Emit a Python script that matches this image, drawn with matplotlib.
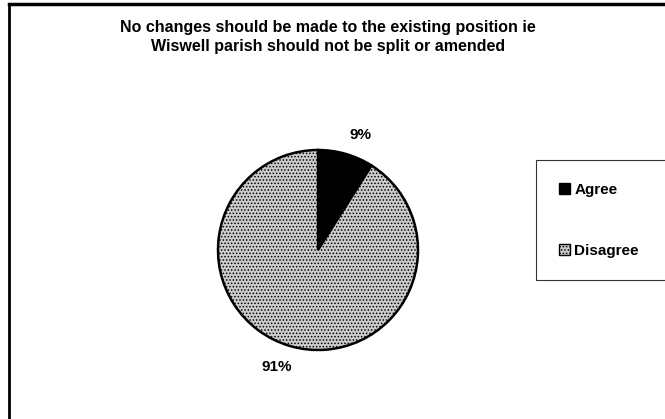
import matplotlib.pyplot as plt
from matplotlib.lines import Line2D
from matplotlib.patches import Patch

plt.rcParams['font.family'] = ['Liberation Sans', 'DejaVu Sans']
plt.rcParams['hatch.color'] = '#444444'
plt.rcParams['hatch.linewidth'] = 0.7

labels = ['Agree', 'Disagree']
values = [9, 91]
pct_labels = ['9%', '91%']
colors = ['#000000', '#cccccc']
hatches = [None, '.....']

fig = plt.figure(figsize=(6.65, 4.19), dpi=100)

# pie axes placed so that the circle sits at about (318, 250) px, radius 100
ax = fig.add_axes([218/665, 1 - 350/419, 200/665, 200/419])
wedges, _ = ax.pie(values, colors=colors, startangle=90, counterclock=False,
                   wedgeprops=dict(edgecolor='black', linewidth=1.8))
for w, h in zip(wedges, hatches):
    if h:
        w.set_hatch(h)
ax.set_xlim(-1, 1)
ax.set_ylim(-1, 1)
ax.set_aspect('equal')

# data labels
ax.text(0.43, 1.15, pct_labels[0], ha='center', va='center', fontsize=11, fontweight='bold')
ax.text(-0.41, -1.17, pct_labels[1], ha='center', va='center', fontsize=11, fontweight='bold')

# title
fig.text(328/665, 1 - 37/419,
         'No changes should be made to the existing position ie\nWiswell parish should not be split or amended',
         ha='center', va='center', fontsize=11.5, fontweight='bold', linespacing=1.4)

# legend
handles = [Patch(facecolor=colors[0], edgecolor='black', label=labels[0]),
           Patch(facecolor=colors[1], edgecolor='black', hatch=hatches[1], label=labels[1])]
leg = fig.legend(handles=handles, loc='upper left',
                 bbox_to_anchor=(536/665, 1 - 278/419, 140/665, 118/419), mode='expand',
                 frameon=True, fancybox=False, fontsize=11, handlelength=0.7,
                 handleheight=0.7, handletextpad=0.3, labelspacing=3.05,
                 borderpad=1.5, borderaxespad=0)
leg.get_frame().set_edgecolor('black')
leg.get_frame().set_linewidth(0.8)
for t in leg.get_texts():
    t.set_fontweight('bold')

# chart border (left and top edges of the scanned chart area)
fig.add_artist(Line2D([9/665, 9/665], [0, 1 - 4/419], color='black', linewidth=2))
fig.add_artist(Line2D([9/665, 1], [1 - 4/419, 1 - 4/419], color='black', linewidth=2.5))

fig.savefig('out.png', dpi=100)
